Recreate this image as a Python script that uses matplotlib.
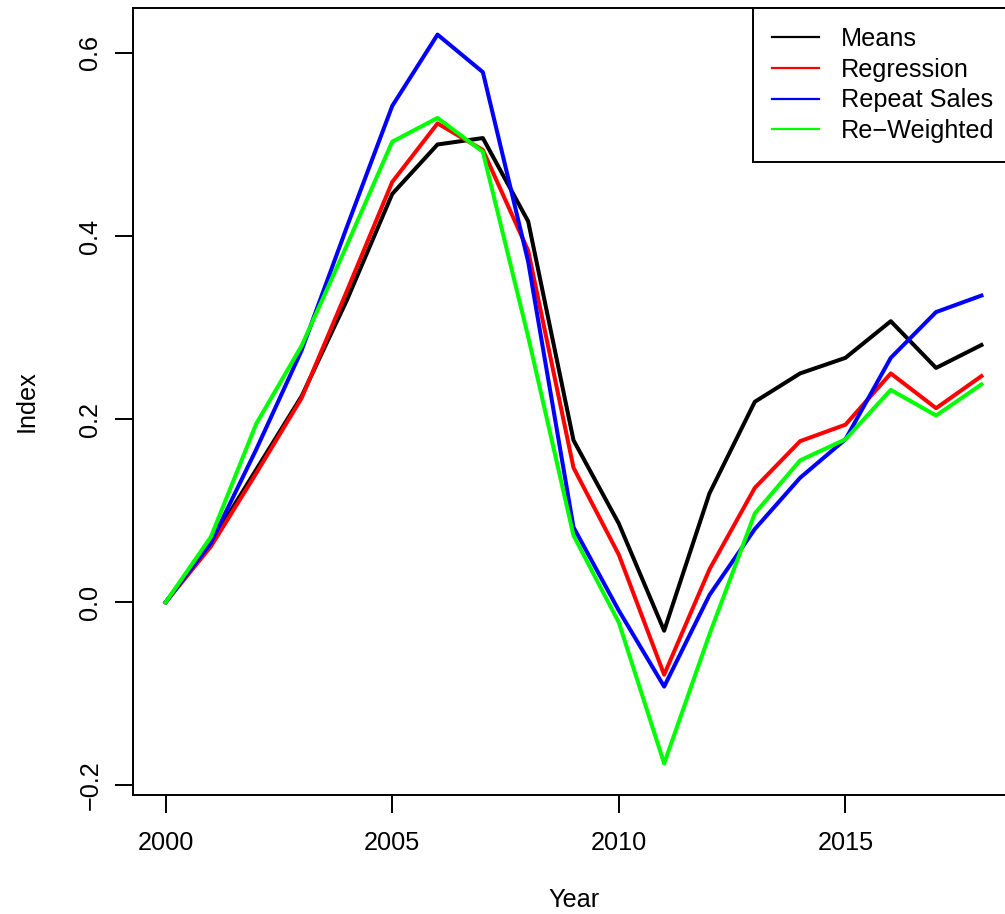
import matplotlib.pyplot as plt

plt.rcParams['font.family'] = ['Liberation Sans', 'DejaVu Sans']

years = list(range(2000, 2019))
means = [0, 0.065, 0.145, 0.225, 0.33, 0.446, 0.500, 0.507, 0.416, 0.177,
         0.086, -0.031, 0.119, 0.219, 0.250, 0.267, 0.307, 0.256, 0.281]
regression = [0, 0.061, 0.141, 0.223, 0.34, 0.459, 0.523, 0.494, 0.384, 0.147,
              0.052, -0.079, 0.036, 0.125, 0.176, 0.194, 0.250, 0.212, 0.247]
repeat_sales = [0, 0.065, 0.167, 0.275, 0.41, 0.542, 0.620, 0.579, 0.372, 0.082,
                -0.009, -0.092, 0.008, 0.080, 0.136, 0.178, 0.267, 0.317, 0.335]
reweighted = [0, 0.0715, 0.195, 0.28, 0.39, 0.503, 0.529, 0.492, 0.29, 0.073,
              -0.022, -0.176, -0.035, 0.097, 0.155, 0.178, 0.232, 0.204, 0.238]

labels = ['Means', 'Regression', 'Repeat Sales', 'Re\u2212Weighted']
colors = ['black', 'red', 'blue', '#00ff00']
series = [means, regression, repeat_sales, reweighted]

fs = 18.2

fig = plt.figure(figsize=(10.05, 9.14), dpi=100)
ax = fig.add_axes([0.1323, 0.1302, 1.009 - 0.1323, 0.9912 - 0.1302])

for s, c, lab in zip(series, colors, labels):
    ax.plot(years, s, color=c, lw=2.9, label=lab)

ax.set_xlim(1999.28, 2018.72)
ax.set_ylim(-0.2104, 0.649)
ax.set_xticks([2000, 2005, 2010, 2015])
ax.set_yticks([-0.2, 0.0, 0.2, 0.4, 0.6])
ax.set_yticklabels(['\u22120.2', '0.0', '0.2', '0.4', '0.6'])
ax.tick_params(labelsize=fs, length=13, width=1.4, pad=9)
ax.tick_params(axis='x', pad=13)
plt.setp(ax.get_yticklabels(), rotation=90, va='center')
for sp in ax.spines.values():
    sp.set_linewidth(1.4)

ax.set_xlabel('Year', fontsize=fs, labelpad=23.5)
ax.set_ylabel('Index', fontsize=fs, labelpad=29)

leg = ax.legend(loc='upper right', borderaxespad=0, fontsize=fs, fancybox=False,
                edgecolor='black', framealpha=1, handlelength=1.85, handletextpad=0.9,
                labelspacing=0.26, borderpad=0.76)
leg.get_frame().set_linewidth(1.4)
for line in leg.get_lines():
    line.set_linewidth(1.6)

fig.savefig('out.png', dpi=100)
